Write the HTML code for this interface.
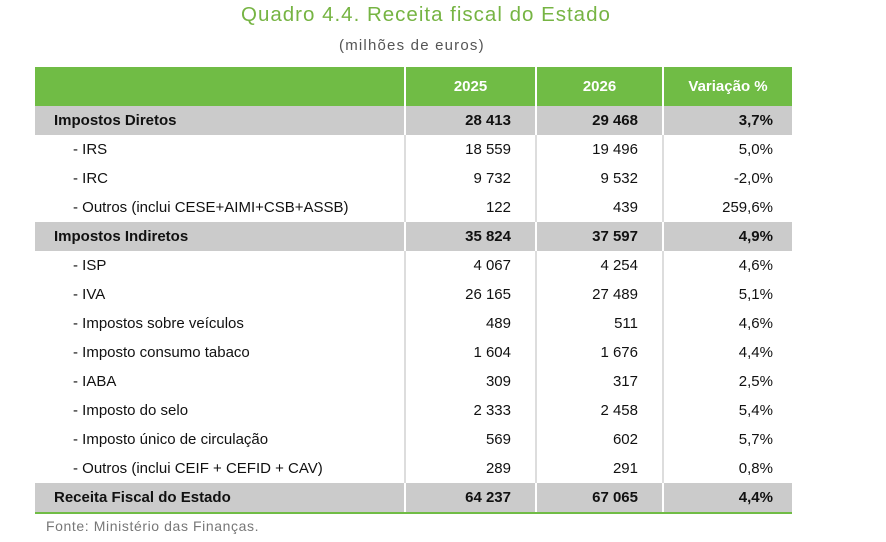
<!DOCTYPE html>
<html><head><meta charset="utf-8"><style>
body{margin:0;width:886px;height:542px;background:#fff;font-family:"Liberation Sans",sans-serif;position:relative;overflow:hidden}
.t{position:absolute;left:241px;top:3px;font-size:20.5px;color:#76b443;letter-spacing:1px}
.s{position:absolute;left:339px;top:37px;font-size:15px;color:#555;letter-spacing:1.2px}
.f{position:absolute;left:46px;top:518px;font-size:14px;color:#777;letter-spacing:0.6px}
table{position:absolute;left:35px;top:67px;border-collapse:collapse;font-size:15px;color:#111}
td{height:29px;padding:0;border-left:2px solid #ddd;white-space:nowrap}
td:first-child{border-left:none}
td.n{text-align:right;padding-right:24px}
td.v{text-align:right;padding-right:19px}
tr.h td{background:#70bc45;color:#fff;font-weight:bold;height:39px;text-align:center;border-left:2px solid #fff;padding:0}
tr.h td:first-child{border-left:none}
tr.g td{background:#cbcbcb;font-weight:bold;border-left:2px solid #fff}
tr.g td:first-child{border-left:none;padding-left:19px}
td.l{padding-left:38px}
tr.last td{border-bottom:2px solid #70bc45}
</style></head><body>
<div class="t">Quadro 4.4. Receita fiscal do Estado</div>
<div class="s">(milhões de euros)</div>
<table>
<colgroup><col style="width:370px"><col style="width:131px"><col style="width:127px"><col style="width:129px"></colgroup>
<tr class="h"><td></td><td>2025</td><td>2026</td><td>Variação %</td></tr>
<tr class="g"><td>Impostos Diretos</td><td class="n">28 413</td><td class="n">29 468</td><td class="v">3,7%</td></tr>
<tr><td class="l">- IRS</td><td class="n">18 559</td><td class="n">19 496</td><td class="v">5,0%</td></tr>
<tr><td class="l">- IRC</td><td class="n">9 732</td><td class="n">9 532</td><td class="v">-2,0%</td></tr>
<tr><td class="l">- Outros (inclui CESE+AIMI+CSB+ASSB)</td><td class="n">122</td><td class="n">439</td><td class="v">259,6%</td></tr>
<tr class="g"><td>Impostos Indiretos</td><td class="n">35 824</td><td class="n">37 597</td><td class="v">4,9%</td></tr>
<tr><td class="l">- ISP</td><td class="n">4 067</td><td class="n">4 254</td><td class="v">4,6%</td></tr>
<tr><td class="l">- IVA</td><td class="n">26 165</td><td class="n">27 489</td><td class="v">5,1%</td></tr>
<tr><td class="l">- Impostos sobre veículos</td><td class="n">489</td><td class="n">511</td><td class="v">4,6%</td></tr>
<tr><td class="l">- Imposto consumo tabaco</td><td class="n">1 604</td><td class="n">1 676</td><td class="v">4,4%</td></tr>
<tr><td class="l">- IABA</td><td class="n">309</td><td class="n">317</td><td class="v">2,5%</td></tr>
<tr><td class="l">- Imposto do selo</td><td class="n">2 333</td><td class="n">2 458</td><td class="v">5,4%</td></tr>
<tr><td class="l">- Imposto único de circulação</td><td class="n">569</td><td class="n">602</td><td class="v">5,7%</td></tr>
<tr><td class="l">- Outros (inclui CEIF + CEFID + CAV)</td><td class="n">289</td><td class="n">291</td><td class="v">0,8%</td></tr>
<tr class="g last"><td>Receita Fiscal do Estado</td><td class="n">64 237</td><td class="n">67 065</td><td class="v">4,4%</td></tr>
</table>
<div class="f">Fonte: Ministério das Finanças.</div>
</body></html>
